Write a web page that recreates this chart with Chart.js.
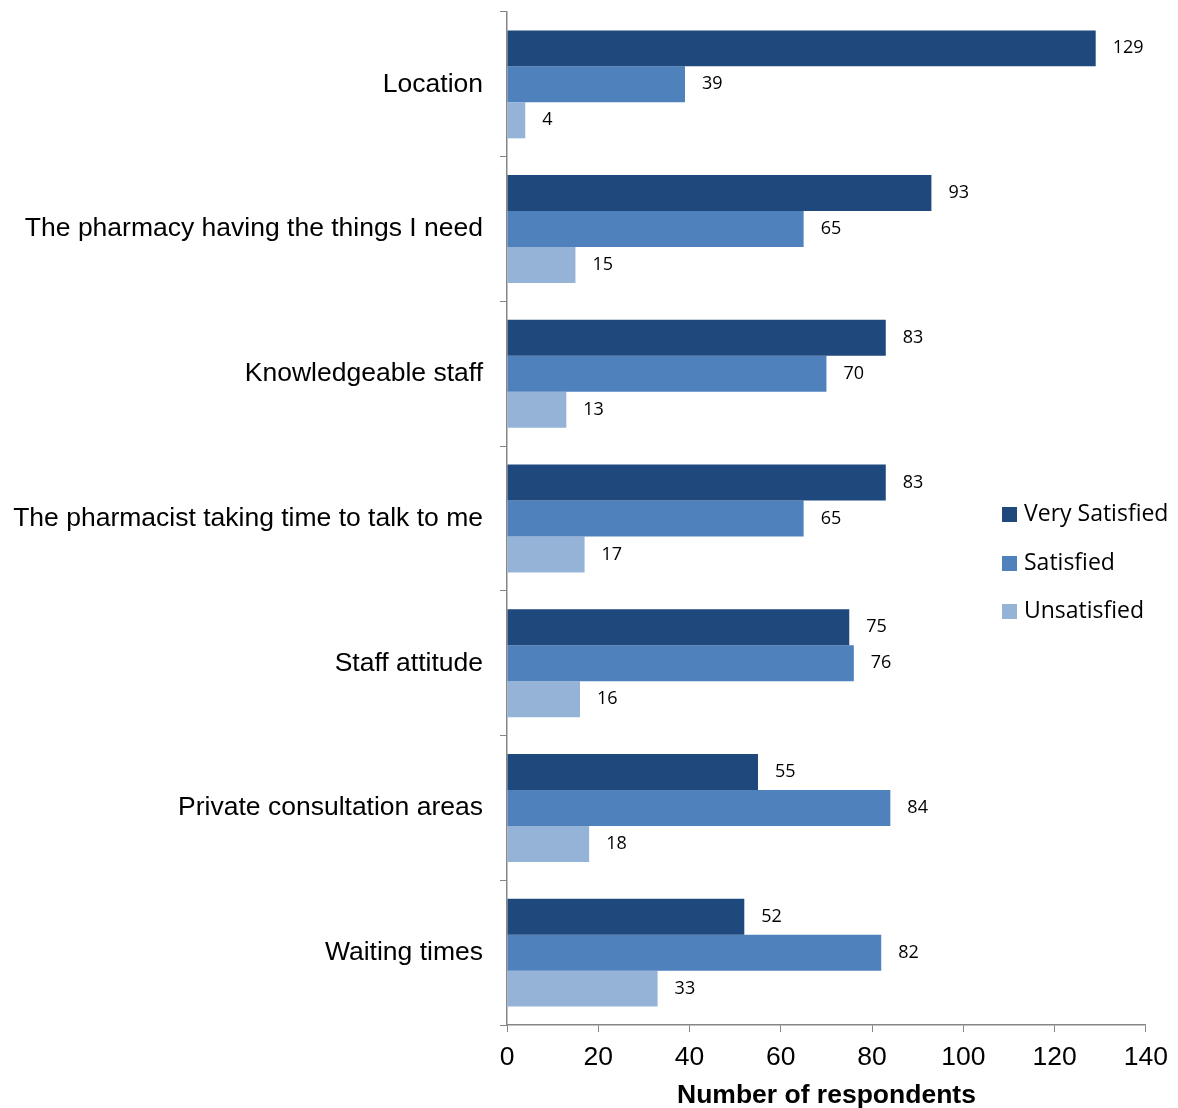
<!DOCTYPE html>
<html>
<head>
<meta charset="utf-8">
<script src="https://cdn.jsdelivr.net/npm/chart.js@4/dist/chart.umd.min.js"></script>
<style>
    body { margin: 0; background: #fff; }
    #wrap { position: relative; width: 1178px; height: 1108px; }
    #legenda { position: absolute; left: 1001px; top: 496px; font-family: 'Open Sans', 'Noto Sans', sans-serif; font-size: 23px; color: #000; }
    #legenda div { height: 48.5px; display: flex; align-items: flex-start; }
    #legenda span.box { display: inline-block; width: 15px; height: 15px; margin: 11px 7px 0 1px; }
</style>
</head>
<body>
<div id="wrap">
    <canvas id="grafico"></canvas>
    <div id="legenda"></div>
</div>
<script>
// categorias e valores
const categorias = [
    'Location',
    'The pharmacy having the things I need',
    'Knowledgeable staff',
    'The pharmacist taking time to talk to me',
    'Staff attitude',
    'Private consultation areas',
    'Waiting times'
];
const muitoSatisfeito = [129, 93, 83, 83, 75, 55, 52];
const satisfeito = [39, 65, 70, 65, 76, 84, 82];
const insatisfeito = [4, 15, 13, 17, 16, 18, 33];
const nomesSeries = ['Very Satisfied', 'Satisfied', 'Unsatisfied'];
const cores = ['#1F497D', '#4F81BD', '#95B3D7'];

// plugin simples para escrever os valores no fim das barras
const rotulosPlugin = {
    id: 'rotulos',
    afterDatasetsDraw(chart) {
        const ctx = chart.ctx;
        ctx.save();
        ctx.font = '18px "Open Sans", "Noto Sans", sans-serif';
        ctx.fillStyle = '#000';
        ctx.textAlign = 'left';
        ctx.textBaseline = 'middle';
        chart.data.datasets.forEach((ds, i) => {
            chart.getDatasetMeta(i).data.forEach((bar, j) => {
                ctx.fillText(ds.data[j], bar.x + 17, bar.y);
            });
        });
        ctx.restore();
    }
};

const series = [muitoSatisfeito, satisfeito, insatisfeito];
const fonteArial = '"Liberation Sans", Arial, sans-serif';

const config = {
    type: 'bar',
    data: {
        labels: categorias,
        datasets: series.map((valores, i) => ({
            label: nomesSeries[i],
            data: valores,
            backgroundColor: cores[i],
            barPercentage: 1,
            categoryPercentage: 0.746
        }))
    },
    options: {
        indexAxis: 'y',
        responsive: true,
        maintainAspectRatio: false,
        animation: false,
        layout: { padding: { left: 0, right: 32, top: 12, bottom: 0 } },
        plugins: {
            legend: { display: false },
            tooltip: { enabled: false }
        },
        scales: {
            x: {
                min: 0,
                max: 140,
                ticks: {
                    stepSize: 20,
                    color: '#000',
                    padding: 10,
                    font: { family: fonteArial, size: 26.5 }
                },
                grid: { drawOnChartArea: false, drawTicks: true, tickLength: 7, color: '#868686' },
                border: { color: '#868686', width: 1.5 },
                title: {
                    display: true,
                    text: 'Number of respondents',
                    color: '#000',
                    font: { family: fonteArial, size: 26.5, weight: 'bold' },
                    padding: { top: 0, bottom: -4 }
                },
                afterFit(scale) { scale.height = 83; }
            },
            y: {
                ticks: {
                    color: '#000',
                    padding: 17,
                    font: { family: fonteArial, size: 26.5 }
                },
                grid: { drawOnChartArea: false, drawTicks: true, tickLength: 7, color: '#868686', offset: true },
                border: { color: '#868686', width: 1.5 },
                afterFit(scale) {
                    scale.width = 507;
                    scale.paddingTop = 0;
                    scale.paddingBottom = 0;
                }
            }
        }
    },
    plugins: [rotulosPlugin]
};

new Chart(document.getElementById('grafico'), config);

// legenda em html, posicionada dentro da área do gráfico
const legenda = document.getElementById('legenda');
nomesSeries.forEach((nome, i) => {
    legenda.innerHTML += `<div><span class="box" style="background:${cores[i]}"></span>${nome}</div>`;
});
</script>
</body>
</html>
